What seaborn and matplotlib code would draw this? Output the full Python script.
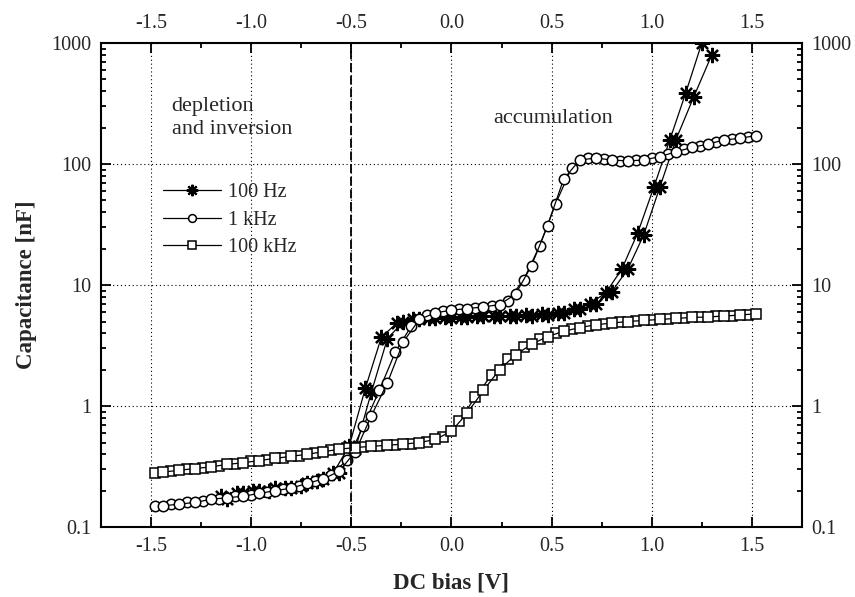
import pandas as pd
import seaborn as sns
import matplotlib.pyplot as plt
from matplotlib.lines import Line2D
from matplotlib.ticker import MultipleLocator, NullFormatter

# --- data: two sweep branches per frequency ---
bias_100hz_a = [-1.15, -1.07, -0.99, -0.91, -0.83, -0.75, -0.67, -0.59, -0.51, -0.43, -0.35,
                -0.27, -0.19, -0.11, -0.03, 0.05, 0.13, 0.21, 0.29, 0.37, 0.45, 0.53, 0.61,
                0.69, 0.77, 0.85, 0.93, 1.01, 1.09, 1.17, 1.25]
cap_100hz_a = [0.18, 0.19, 0.20, 0.20, 0.21, 0.22, 0.24, 0.28, 0.47, 1.4, 3.7,
               4.9, 5.2, 5.3, 5.4, 5.4, 5.5, 5.5, 5.6, 5.7, 5.8, 5.9, 6.3,
               7.0, 8.6, 13.5, 27, 64, 158, 388, 1000]
bias_100hz_b = [-1.12, -1.04, -0.96, -0.88, -0.80, -0.72, -0.64, -0.56, -0.48, -0.40, -0.32,
                -0.24, -0.16, -0.08, 0.00, 0.08, 0.16, 0.24, 0.32, 0.40, 0.48, 0.56, 0.64,
                0.72, 0.80, 0.88, 0.96, 1.04, 1.12, 1.21, 1.30]
cap_100hz_b = [0.17, 0.19, 0.20, 0.21, 0.21, 0.23, 0.25, 0.28, 0.44, 1.3, 3.6,
               5.0, 5.2, 5.3, 5.3, 5.4, 5.5, 5.5, 5.6, 5.6, 5.7, 5.9, 6.3,
               7.0, 8.8, 13.5, 26, 64, 158, 360, 800]

bias_1khz_a = [-1.48, -1.40, -1.32, -1.24, -1.16, -1.08, -1.00, -0.92, -0.84, -0.76, -0.68,
               -0.60, -0.52, -0.44, -0.36, -0.28, -0.20, -0.12, -0.04, 0.04, 0.12, 0.20,
               0.28, 0.36, 0.44, 0.52, 0.60, 0.68, 0.76, 0.84, 0.92, 1.00, 1.08, 1.16,
               1.24, 1.32, 1.40, 1.48]
cap_1khz_a = [0.15, 0.155, 0.16, 0.165, 0.17, 0.18, 0.185, 0.195, 0.205, 0.22, 0.24,
              0.27, 0.36, 0.68, 1.35, 2.8, 4.6, 5.7, 6.1, 6.3, 6.5, 6.7,
              7.4, 11, 21, 47, 93, 113, 109, 105, 107, 112, 120, 132,
              142, 152, 162, 168]
bias_1khz_b = [-1.44, -1.36, -1.28, -1.20, -1.12, -1.04, -0.96, -0.88, -0.80, -0.72, -0.64,
               -0.56, -0.48, -0.40, -0.32, -0.24, -0.16, -0.08, 0.00, 0.08, 0.16, 0.24,
               0.32, 0.40, 0.48, 0.56, 0.64, 0.72, 0.80, 0.88, 0.96, 1.04, 1.12, 1.20,
               1.28, 1.36, 1.44, 1.52]
cap_1khz_b = [0.15, 0.155, 0.16, 0.17, 0.175, 0.18, 0.19, 0.20, 0.21, 0.23, 0.25,
              0.29, 0.42, 0.83, 1.55, 3.4, 5.2, 5.9, 6.2, 6.4, 6.6, 6.9,
              8.4, 14.5, 31, 75, 108, 112, 108, 106, 108, 115, 126, 137,
              146, 158, 163, 172]

bias_100khz_a = [-1.48, -1.40, -1.32, -1.24, -1.16, -1.08, -1.00, -0.92, -0.84, -0.76, -0.68,
                 -0.60, -0.52, -0.44, -0.36, -0.28, -0.20, -0.12, -0.04, 0.04, 0.12, 0.20,
                 0.28, 0.36, 0.44, 0.52, 0.60, 0.68, 0.76, 0.84, 0.92, 1.00, 1.08, 1.16,
                 1.24, 1.32, 1.40, 1.48]
cap_100khz_a = [0.28, 0.29, 0.30, 0.31, 0.32, 0.335, 0.35, 0.36, 0.375, 0.39, 0.41,
                0.43, 0.45, 0.46, 0.47, 0.48, 0.49, 0.51, 0.56, 0.75, 1.2, 1.8,
                2.45, 3.05, 3.6, 4.0, 4.35, 4.6, 4.8, 4.95, 5.05, 5.15, 5.25, 5.35,
                5.45, 5.5, 5.6, 5.7]
bias_100khz_b = [-1.44, -1.36, -1.28, -1.20, -1.12, -1.04, -0.96, -0.88, -0.80, -0.72, -0.64,
                 -0.56, -0.48, -0.40, -0.32, -0.24, -0.16, -0.08, 0.00, 0.08, 0.16, 0.24,
                 0.32, 0.40, 0.48, 0.56, 0.64, 0.72, 0.80, 0.88, 0.96, 1.04, 1.12, 1.20,
                 1.28, 1.36, 1.44, 1.52]
cap_100khz_b = [0.285, 0.295, 0.305, 0.315, 0.33, 0.34, 0.355, 0.37, 0.385, 0.40, 0.42,
                0.44, 0.455, 0.465, 0.475, 0.485, 0.50, 0.53, 0.62, 0.88, 1.35, 2.0,
                2.65, 3.25, 3.75, 4.15, 4.45, 4.7, 4.85, 5.0, 5.1, 5.2, 5.3, 5.4,
                5.45, 5.55, 5.65, 5.8]

freq_labels = ['100 Hz', '1 kHz', '100 kHz']
x_ticks = [-1.5, -1.0, -0.5, 0.0, 0.5, 1.0, 1.5]
x_ticklabels = ['-1.5', '-1.0', '-0.5', '0.0', '0.5', '1.0', '1.5']
y_ticks = [0.1, 1, 10, 100, 1000]
y_ticklabels = ['0.1', '1', '10', '100', '1000']

branches = [
    ('100 Hz', 'a', bias_100hz_a, cap_100hz_a),
    ('100 Hz', 'b', bias_100hz_b, cap_100hz_b),
    ('1 kHz', 'a', bias_1khz_a, cap_1khz_a),
    ('1 kHz', 'b', bias_1khz_b, cap_1khz_b),
    ('100 kHz', 'a', bias_100khz_a, cap_100khz_a),
    ('100 kHz', 'b', bias_100khz_b, cap_100khz_b),
]
df = pd.concat([
    pd.DataFrame({'bias': b, 'cap': c, 'freq': f, 'sweep': f + s})
    for f, s, b, c in branches
], ignore_index=True)

sns.set_theme(style='ticks')
plt.rcParams['font.family'] = ['Liberation Serif', 'DejaVu Serif']
plt.rcParams['axes.linewidth'] = 1.5

marker_map = {'100 Hz': (8, 2, 0), '1 kHz': 'o', '100 kHz': 's'}
size_map = {'100 Hz': 11, '1 kHz': 7.5, '100 kHz': 7}
mew_map = {'100 Hz': 1.6, '1 kHz': 1.1, '100 kHz': 1.1}

fig = plt.figure(figsize=(8.55, 5.97), dpi=100)
ax = fig.add_axes([0.118, 0.117, 0.820, 0.811])

# plot one frequency at a time so each marker keeps its own size
for f in freq_labels:
    sns.lineplot(data=df[df['freq'] == f], x='bias', y='cap', units='sweep',
                 estimator=None, sort=False, ax=ax, color='black', linewidth=0.9,
                 marker=marker_map[f], markersize=size_map[f],
                 markerfacecolor='white', markeredgecolor='black',
                 markeredgewidth=mew_map[f], legend=False)

ax.axvline(-0.5, color='black', linewidth=1.3, linestyle=(0, (5, 2)))

ax.set_yscale('log')
ax.set_xlim(-1.75, 1.75)
ax.set_ylim(0.1, 1000)
ax.set_xticks(x_ticks, labels=x_ticklabels)
ax.set_yticks(y_ticks, labels=y_ticklabels)
ax.xaxis.set_minor_locator(MultipleLocator(0.25))
ax.yaxis.set_minor_formatter(NullFormatter())
ax.tick_params(which='both', direction='in', top=True, right=True,
               labeltop=True, labelright=True, labelsize=14.5, color='black',
               width=1.3, pad=7)
ax.tick_params(which='major', length=7)
ax.tick_params(which='minor', length=3.5)
ax.grid(True, which='major', linestyle=(0, (1, 2.5)), color='black', linewidth=0.8)
for sp in ax.spines.values():
    sp.set_color('black')

ax.set_xlabel('DC bias [V]', fontsize=16.5, fontweight='bold', labelpad=12)
ax.set_ylabel('Capacitance [nF]', fontsize=16.5, fontweight='bold', labelpad=10)

ax.text(0.101, 0.845, 'depletion\nand inversion', transform=ax.transAxes,
        fontsize=16, va='center', ha='left', linespacing=1.25)
ax.text(0.559, 0.845, 'accumulation', transform=ax.transAxes,
        fontsize=16, va='center', ha='left')

handles = [Line2D([], [], color='black', linewidth=0.9, marker=marker_map[f],
                  markersize=size_map[f] * 0.75, markerfacecolor='white',
                  markeredgecolor='black', markeredgewidth=mew_map[f])
           for f in freq_labels]
ax.legend(handles, freq_labels, loc='upper left', bbox_to_anchor=(0.088, 0.71),
          frameon=False, fontsize=14.5, handlelength=2.9, handletextpad=0.35,
          labelspacing=0.4, borderpad=0, borderaxespad=0)

fig.savefig('out.png', dpi=100)
